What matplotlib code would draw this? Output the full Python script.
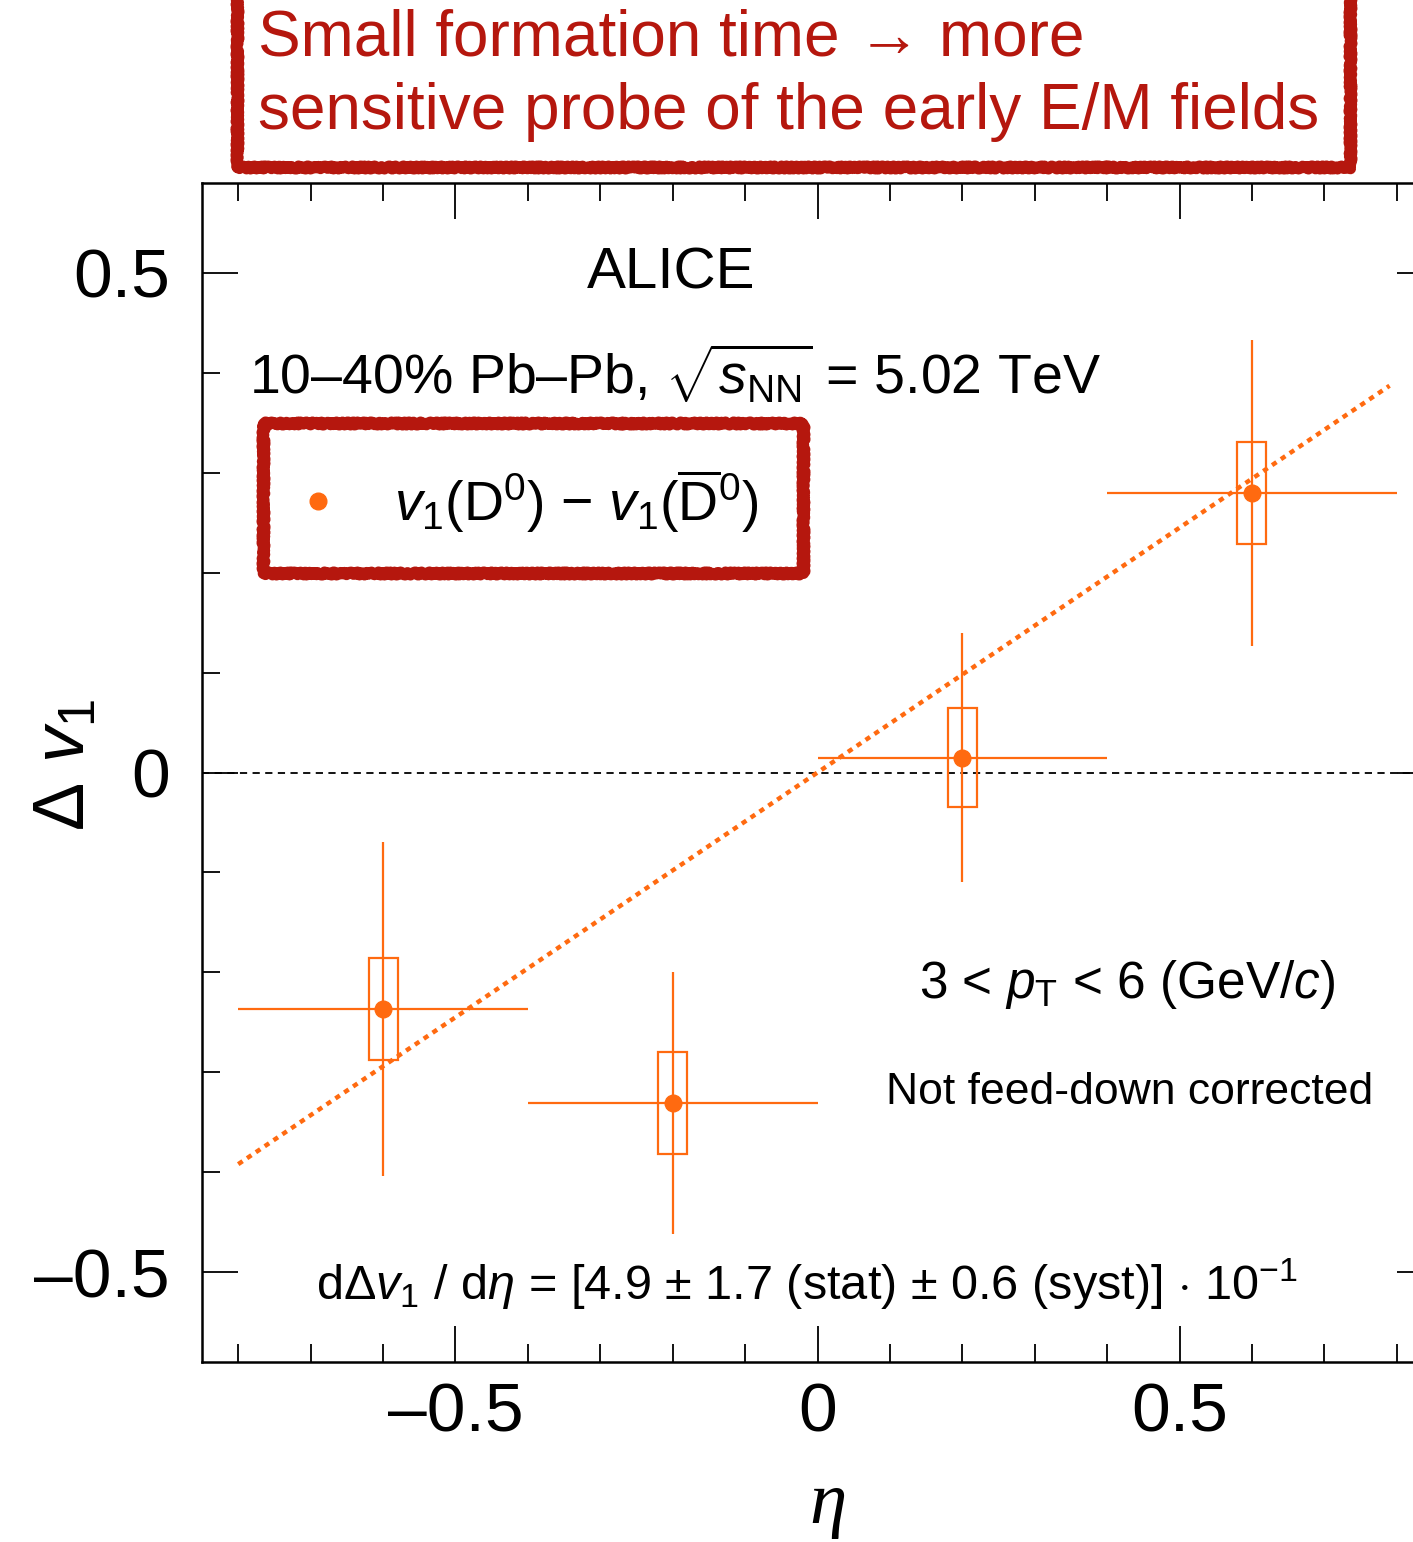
import numpy as np
import matplotlib
matplotlib.use('Agg')
import matplotlib.pyplot as plt
from matplotlib.patches import Rectangle
from matplotlib.ticker import MultipleLocator, FuncFormatter

plt.rcParams['font.family'] = ['Liberation Sans', 'DejaVu Sans']
plt.rcParams['mathtext.fontset'] = 'custom'
plt.rcParams['mathtext.rm'] = 'Liberation Sans'
plt.rcParams['mathtext.it'] = 'Liberation Sans:italic'
plt.rcParams['mathtext.bf'] = 'Liberation Sans:bold'

# data: Delta v1 vs eta
eta = [-0.6, -0.2, 0.2, 0.6]
eta_err = [0.2, 0.2, 0.2, 0.2]
dv1 = [-0.237, -0.331, 0.015, 0.280]
stat_err = [0.167, 0.131, 0.125, 0.153]
syst_err = [0.051, 0.051, 0.050, 0.051]
syst_halfwidth = 0.02
fit_slope = 0.49
fit_range = [-0.8, 0.79]

orange = '#ff6a10'
red = '#b5170e'

fig = plt.figure(figsize=(14.13, 15.42), dpi=100)
ax = fig.add_axes([202/1413, 1 - 1362/1542, (1433-202)/1413, (1362-183)/1542])
ax.set_xlim(-0.85, 0.85)
ax.set_ylim(-0.59, 0.59)

# zero line
ax.axhline(0, color='black', lw=1.3, ls=(0, (4, 3)), zorder=1)

# fit line
xf = np.array(fit_range)
ax.plot(xf, fit_slope * xf, color=orange, lw=3.2, ls=(0, (1.2, 1.2)), zorder=2)

# stat errors
ax.errorbar(eta, dv1, xerr=eta_err, yerr=stat_err, fmt='o', color=orange,
            ms=12, elinewidth=1.6, capsize=0, zorder=3)
# syst boxes
for x, y, s in zip(eta, dv1, syst_err):
    ax.add_patch(Rectangle((x - syst_halfwidth, y - s), 2 * syst_halfwidth, 2 * s,
                           fill=False, ec=orange, lw=1.6, zorder=3))

# ticks
ax.xaxis.set_major_locator(MultipleLocator(0.5))
ax.xaxis.set_minor_locator(MultipleLocator(0.1))
ax.yaxis.set_major_locator(MultipleLocator(0.5))
ax.yaxis.set_minor_locator(MultipleLocator(0.1))
fmt = FuncFormatter(lambda v, p: '0' if abs(v) < 1e-9 else ('%g' % v).replace('-', '\u2013'))
ax.xaxis.set_major_formatter(fmt)
ax.yaxis.set_major_formatter(fmt)
ax.tick_params(which='both', direction='in', top=True, right=True, width=1.3)
ax.tick_params(which='major', length=26, labelsize=50, pad=14)
ax.tick_params(which='minor', length=13)
ax.tick_params(axis='y', which='major', pad=23)
for sp in ax.spines.values():
    sp.set_linewidth(1.8)

fig.text(828/1413, 1 - 1505/1542, '\u03b7', fontsize=54, family='Liberation Serif',
         style='italic', ha='center', va='center')
fig.text(66/1413, 1 - 765/1542, r'$\Delta\ v_{1}$', fontsize=52, rotation=90,
         ha='center', va='center')

# texts
ax.text(-0.2017, 0.499, 'ALICE', fontsize=42, ha='center', va='center')
ax.text(-0.785, 0.398, '10\u201340% Pb\u2013Pb, ' + r'$\sqrt{s_{\rm NN}}$' + ' = 5.02 TeV',
        fontsize=40, ha='left', va='center')
ax.plot([-0.69], [0.272], 'o', color=orange, ms=12)
ax.text(-0.585, 0.272, r'$v_{1}$(D$^{0}$) $-$ $v_{1}$($\overline{\rm D}^{0}$)',
        fontsize=40, ha='left', va='center')
ax.text(0.428, -0.212, r'3 < $p_{\rm T}$ < 6 (GeV/$c$)', fontsize=37,
        ha='center', va='center')
ax.text(0.431, -0.32, 'Not feed-down corrected', fontsize=32,
        ha='center', va='center')
ax.text(-0.014, -0.512,
        r'd$\Delta v_{1}$ / d$\eta$ = [4.9 $\pm$ 1.7 (stat) $\pm$ 0.6 (syst)] $\cdot$ 10$^{-1}$',
        fontsize=35, ha='center', va='center')

# red annotation boxes
for (x0, y0, x1, y1) in [(237, -20, 1350, 167), (263, 423, 803, 573)]:
    r = Rectangle((x0/1413, 1 - y1/1542), (x1-x0)/1413, (y1-y0)/1542,
                  transform=fig.transFigure, fill=False, ec=red, lw=8, zorder=10)
    r.set_joinstyle('round')
    r.set_capstyle('round')
    r.set_sketch_params(scale=1.5, length=6, randomness=3)
    fig.add_artist(r)

fig.text(258/1413, 1 - 38/1542, 'Small formation time \u2192 more',
         fontsize=46, color=red, ha='left', va='center')
fig.text(258/1413, 1 - 112/1542, 'sensitive probe of the early E/M fields',
         fontsize=46, color=red, ha='left', va='center')

fig.savefig('out.png', dpi=100)
